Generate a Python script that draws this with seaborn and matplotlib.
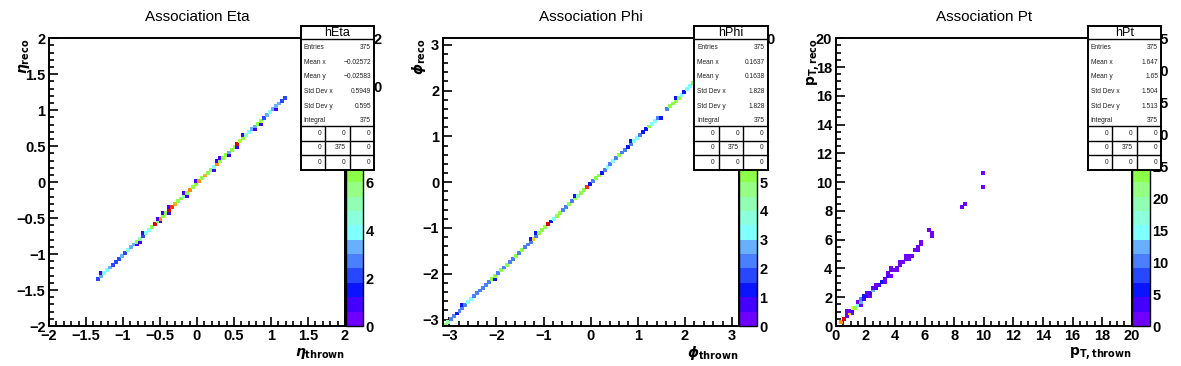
import numpy as np
import pandas as pd
import matplotlib
matplotlib.use("Agg")
import matplotlib.pyplot as plt
from matplotlib.colors import ListedColormap
from matplotlib.patches import Rectangle
from matplotlib.ticker import MultipleLocator, FuncFormatter
import seaborn as sns

W, H = 1181, 366

# 20 contour levels, ROOT-like rainbow, from zero (bottom) to max (top)
palette_hex = ['#6e00ff', '#4400ff', '#0a14ff', '#2848ff', '#4a80ff',
               '#66b0ff', '#80ffff', '#8cffdc', '#90ffb4', '#94ff84',
               '#8cff48', '#b4ff30', '#dcff20', '#fff01a', '#ffd21a',
               '#ffb014', '#ff8c0c', '#ff6000', '#ff3000', '#e00000']

# --- hEta: 100 x 100 bins on [-2, 2], bin numbers
eta_thrown_bin = [16, 17, 18, 19, 20, 21, 22, 23, 24, 25,
                  26, 27, 28, 29, 30, 31, 32, 33, 34, 35,
                  36, 37, 38, 39, 40, 41, 42, 43, 44, 45,
                  46, 47, 48, 49, 50, 51, 52, 53, 54, 55,
                  56, 57, 58, 59, 60, 61, 62, 63, 64, 65,
                  66, 67, 68, 69, 70, 71, 72, 73, 74, 75,
                  76, 77, 78, 79,
                  17, 29, 30, 31, 36, 37, 38, 40, 40, 45,
                  46, 49, 55, 56, 57, 60, 63, 65, 69, 71, 76]
eta_reco_bin = [16, 17, 18, 19, 20, 21, 22, 23, 24, 25,
                26, 27, 28, 29, 30, 31, 32, 33, 34, 35,
                36, 37, 38, 39, 40, 41, 42, 43, 44, 45,
                46, 47, 48, 49, 50, 51, 52, 53, 54, 55,
                56, 57, 58, 59, 60, 61, 62, 63, 64, 65,
                66, 67, 68, 69, 70, 71, 72, 73, 74, 75,
                76, 77, 78, 79,
                18, 28, 29, 32, 37, 36, 39, 41, 39, 46,
                45, 50, 54, 57, 58, 59, 62, 66, 68, 70, 75]
eta_entries = [2, 3, 4, 4, 3, 2, 2, 2, 3, 2,
               4, 3, 3, 6, 5, 2, 4, 4, 6, 12,
               6, 10, 6, 6, 12, 11, 9, 6, 6, 5,
               6, 10, 6, 6, 10, 6, 9, 6, 6, 4,
               10, 6, 6, 6, 3, 6, 6, 12, 7, 6,
               5, 4, 3, 3, 6, 6, 2, 3, 4, 3,
               3, 3, 2, 2,
               1, 1, 1, 1, 1, 1, 1, 1, 1, 1,
               1, 1, 1, 1, 1, 1, 1, 1, 1, 1, 1]

# --- hPhi: 100 x 100 bins on [-pi, pi]
phi_thrown_bin = [0, 1, 2, 3, 4, 5, 6, 7, 8, 9,
                  10, 11, 12, 13, 14, 15, 16, 17, 18, 19,
                  20, 21, 22, 23, 24, 25, 26, 27, 28, 29,
                  30, 31, 32, 33, 34, 35, 36, 37, 38, 39,
                  40, 41, 42, 43, 44, 45, 46, 47, 48, 49,
                  50, 51, 52, 53, 54, 55, 56, 57, 58, 59,
                  60, 61, 62, 63, 64, 65, 66, 67, 68, 69,
                  70, 71, 72, 75, 76, 77, 78, 79,
                  80, 81, 82, 83, 84, 85, 86, 87, 88, 89,
                  90, 91, 92, 93, 94, 95, 96, 97, 98, 99,
                  6, 17, 29, 31, 44, 63, 73, 78]
phi_reco_bin = [0, 1, 2, 3, 4, 5, 6, 7, 8, 9,
                10, 11, 12, 13, 14, 15, 16, 17, 18, 19,
                20, 21, 22, 23, 24, 25, 26, 27, 28, 29,
                30, 31, 32, 33, 34, 35, 36, 37, 38, 39,
                40, 41, 42, 43, 44, 45, 46, 47, 48, 49,
                50, 51, 52, 53, 54, 55, 56, 57, 58, 59,
                60, 61, 62, 63, 64, 65, 66, 67, 68, 69,
                70, 71, 72, 75, 76, 77, 78, 79,
                80, 81, 82, 83, 84, 85, 86, 87, 88, 89,
                90, 91, 92, 93, 94, 95, 96, 97, 98, 99,
                7, 16, 30, 32, 45, 64, 72, 79]
phi_entries = [5, 4, 2, 2, 1, 2, 2, 2, 3, 3,
               2, 2, 2, 2, 2, 2, 5, 5, 2, 5,
               2, 5, 2, 2, 5, 2, 5, 2, 2, 2,
               7, 2, 5, 5, 5, 10, 1, 3, 5, 5,
               2, 2, 5, 2, 5, 4, 5, 5, 9, 1,
               2, 5, 5, 1, 2, 3, 2, 3, 2, 5,
               2, 2, 1, 2, 3, 3, 2, 1, 1, 5,
               3, 3, 2, 2, 5, 5, 5, 5,
               3, 1, 3, 3, 5, 4, 5, 3, 4, 6,
               6, 5, 4, 6, 5, 7, 5, 6, 4, 5,
               1, 1, 1, 1, 1, 1, 1, 1]

# --- hPt: 100 x 100 bins on [0, 20]
pt_thrown_bin = [1, 2, 3, 3, 3, 4, 4, 5, 5, 5,
                 6, 7, 7, 8, 8, 8, 9, 9, 10, 10,
                 11, 11, 12, 12, 13, 13, 14, 15, 16, 16,
                 17, 17, 18, 18, 18, 19, 20, 20, 21, 21,
                 22, 23, 23, 24, 24, 25, 26, 27, 27, 28,
                 28, 31, 32, 32, 42, 43, 49, 49]
pt_reco_bin = [1, 2, 3, 4, 5, 4, 5, 4, 5, 6,
               6, 7, 8, 7, 8, 9, 9, 10, 10, 11,
               10, 11, 12, 13, 13, 14, 14, 15, 15, 16,
               17, 18, 17, 19, 20, 19, 19, 20, 21, 22,
               22, 23, 24, 24, 23, 24, 26, 27, 26, 28,
               29, 33, 32, 31, 41, 42, 53, 48]
pt_entries = [38, 44, 2, 1, 1, 32, 2, 1, 3, 28,
              24, 15, 1, 1, 12, 9, 3, 6, 3, 2,
              2, 3, 12, 2, 4, 2, 4, 6, 1, 2,
              3, 1, 2, 2, 1, 2, 1, 2, 2, 1,
              1, 2, 1, 2, 1, 1, 1, 2, 1, 2,
              1, 1, 1, 1, 1, 1, 1, 1]

stat_names = ['Entries', 'Mean x', 'Mean y', 'Std Dev x', 'Std Dev y', 'Integral']
eta_stats = ['375', '\u22120.02572', '\u22120.02583', '0.5949', '0.595', '375']
phi_stats = ['375', '0.1637', '0.1638', '1.828', '1.828', '375']
pt_stats = ['375', '1.647', '1.65', '1.504', '1.513', '375']
overflow_table = [['0', '0', '0'], ['0', '375', '0'], ['0', '0', '0']]


def px_rect(left, top, right, bottom):
    return [left / W, 1 - bottom / H, (right - left) / W, (bottom - top) / H]


def tick_fmt(v, pos):
    s = f'{round(v, 6) + 0:g}'
    return s.replace('-', '\u2212')


def draw_stats(fig, left, top, right, bottom, name, values):
    sa = fig.add_axes(px_rect(left, top, right, bottom))
    w, h = right - left, bottom - top
    sa.set_xlim(0, w)
    sa.set_ylim(h, 0)
    sa.axis('off')
    sa.add_patch(Rectangle((0, 0), w, h, facecolor='white', edgecolor='black',
                           lw=1.4, clip_on=False))
    line = dict(color='black', lw=1.0, clip_on=False)
    sa.plot([0, w], [13.5, 13.5], **line)
    for yl in [100.3, 115, 129.3]:
        sa.plot([0, w], [yl, yl], **line)
    for xl in [w / 3, 2 * w / 3]:
        sa.plot([xl, xl], [100.3, h], **line)
    sa.text(w / 2, 7.2, name, ha='center', va='center', fontsize=9,
            fontweight='normal')
    for k, (lab, val) in enumerate(zip(stat_names, values)):
        yy = 22 + k * 14.6
        sa.text(3, yy, lab, ha='left', va='center', fontsize=4.8,
                fontweight='normal', color='#222222')
        sa.text(w - 3, yy, val, ha='right', va='center', fontsize=4.8,
                fontweight='normal', color='#222222')
    for r, row in enumerate(overflow_table):
        for c, val in enumerate(row):
            sa.text((c + 1) * w / 3 - 4, 107.8 + r * 14.4, val, ha='right',
                    va='center', fontsize=4.8, fontweight='normal',
                    color='#222222')


def draw_panel(fig, cfg):
    lo, hi = cfg['range']
    width = (hi - lo) / 100
    df = pd.DataFrame({
        'thrown': lo + (np.asarray(cfg['xbin']) + 0.5) * width,
        'reco': lo + (np.asarray(cfg['ybin']) + 0.5) * width,
        'n': cfg['entries'],
    })
    ax = fig.add_axes(px_rect(cfg['left'], 38.3, cfg['left'] + 296, 326))
    cax = fig.add_axes(px_rect(cfg['left'] + 296.5, 38.3, cfg['left'] + 314, 326))
    sns.histplot(data=df, x='thrown', y='reco', weights='n', bins=100,
                 binrange=((lo, hi), (lo, hi)), cmap=ListedColormap(palette_hex),
                 vmin=0, vmax=cfg['vmax'], cbar=True, cbar_ax=cax, ax=ax,
                 edgecolor='face', linewidth=0.5)
    ax.set_xlim(lo, hi)
    ax.set_ylim(lo, hi)
    ax.set_xlabel('')
    ax.set_ylabel('')
    for sp in ax.spines.values():
        sp.set_linewidth(1.4)
        sp.set_visible(True)
    ax.xaxis.set_major_locator(MultipleLocator(cfg['major']))
    ax.xaxis.set_minor_locator(MultipleLocator(cfg['minor']))
    ax.yaxis.set_major_locator(MultipleLocator(cfg['major']))
    ax.yaxis.set_minor_locator(MultipleLocator(cfg['minor']))
    ax.xaxis.set_major_formatter(FuncFormatter(tick_fmt))
    ax.yaxis.set_major_formatter(FuncFormatter(tick_fmt))
    ax.tick_params(which='both', direction='in', top=False, right=False,
                   labelsize=10.5, width=1.2, color='black')
    ax.tick_params(which='major', length=6.5, pad=2.5)
    ax.tick_params(which='minor', length=3.3)
    ax.set_title(cfg['title'], fontsize=11, fontweight='normal', pad=12.5)
    ax.text(1.0, -0.095, cfg['xlabel'], transform=ax.transAxes, ha='right',
            va='center', fontsize=10)
    ax.text(cfg['ylab_x'], 1.0, cfg['ylabel'], transform=ax.transAxes,
            rotation=90, ha='center', va='top', fontsize=10)

    cax.set_ylim(0, cfg['vmax'])
    cax.yaxis.set_major_locator(MultipleLocator(cfg['cstep']))
    cax.yaxis.set_major_formatter(FuncFormatter(tick_fmt))
    cax.yaxis.set_ticks_position('right')
    cax.tick_params(which='both', direction='in', labelsize=10.5, length=6.5,
                    width=1.2, pad=2)
    cax.minorticks_off()
    for sp in cax.spines.values():
        sp.set_linewidth(1.0)

    draw_stats(fig, cfg['left'] + cfg['box_dx'], 25.7, cfg['left'] + cfg['box_dx'] + 73.5,
               169.5, cfg['name'], cfg['stats'])


sns.set_theme(style='ticks')
plt.rcParams['font.family'] = ['Liberation Sans', 'DejaVu Sans']
plt.rcParams['font.weight'] = 'bold'
plt.rcParams['mathtext.fontset'] = 'dejavusans'
plt.rcParams['axes.edgecolor'] = 'black'
plt.rcParams['text.color'] = 'black'
plt.rcParams['xtick.color'] = 'black'
plt.rcParams['ytick.color'] = 'black'

panels = [
    dict(name='hEta', title='Association Eta', range=(-2, 2), vmax=12, cstep=2,
         major=0.5, minor=0.1, left=49, box_dx=251.7,
         xbin=eta_thrown_bin, ybin=eta_reco_bin, entries=eta_entries, stats=eta_stats,
         xlabel=r'$\eta_{\mathbf{thrown}}$', ylabel=r'$\eta_{\mathbf{reco}}$', ylab_x=-0.082),
    dict(name='hPhi', title='Association Phi', range=(-np.pi, np.pi), vmax=10, cstep=1,
         major=1, minor=0.2, left=442.7, box_dx=251.3,
         xbin=phi_thrown_bin, ybin=phi_reco_bin, entries=phi_entries, stats=phi_stats,
         xlabel=r'$\phi_{\mathbf{thrown}}$', ylabel=r'$\phi_{\mathbf{reco}}$', ylab_x=-0.08),
    dict(name='hPt', title='Association Pt', range=(0, 20), vmax=45, cstep=5,
         major=2, minor=0.5, left=835.7, box_dx=252,
         xbin=pt_thrown_bin, ybin=pt_reco_bin, entries=pt_entries, stats=pt_stats,
         xlabel=r'$\mathbf{p}_{\mathbf{T,thrown}}$', ylabel=r'$\mathbf{p}_{\mathbf{T,reco}}$',
         ylab_x=-0.075),
]

fig = plt.figure(figsize=(W / 100, H / 100), dpi=100)
for cfg in panels:
    draw_panel(fig, cfg)

fig.savefig('out.png', dpi=100)
